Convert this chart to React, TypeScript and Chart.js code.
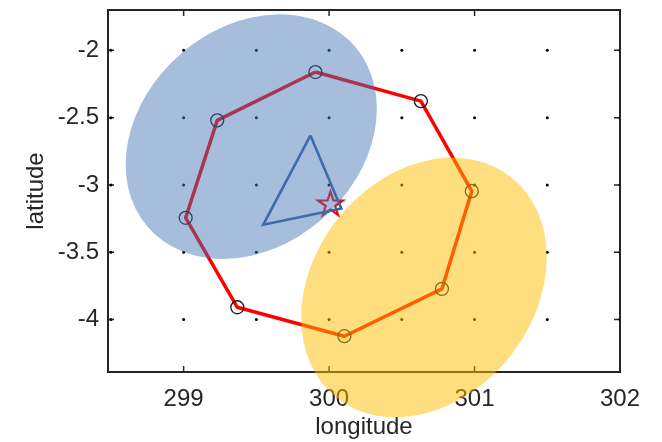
import React, { useEffect, useRef } from "react";
import { Chart, registerables } from "chart.js";

Chart.register(...registerables);

// ---- data ----
const xTickValues = [299, 300, 301, 302];
const yTickValues = [-4, -3.5, -3, -2.5, -2];
const xLimits = [298.48, 302];
const yLimits = [-4.39, -1.7];

const gridDotLon = [298.5, 299, 299.5, 300, 300.5, 301, 301.5, 302];
const gridDotLat = [-2, -2.5, -3, -3.5, -4];

const routeLon = [299.906, 300.631, 300.981, 300.776, 300.105, 299.369, 299.014, 299.231];
const routeLat = [-2.161, -2.377, -3.046, -3.772, -4.124, -3.909, -3.244, -2.52];

const triangleLon = [299.872, 299.547, 300.084];
const triangleLat = [-2.632, -3.296, -3.175];

const starLon = [300.009];
const starLat = [-3.145];

// ellipse: centre [lon, lat], covariance-like shape [sxx, sxy, syy] in data units
const blueEllipseCenter = [299.465, -2.641];
const blueEllipseShape = [0.7455, 0.1791, 0.8255];
const yellowEllipseCenter = [300.652, -3.762];
const yellowEllipseShape = [0.7127, 0.1888, 0.93];

const FONT = '"Liberation Sans", Arial, Helvetica, sans-serif';
const TEXT = "#262626";

function makePentagram(R: number, color: string, lw: number): HTMLCanvasElement {
  const size = Math.ceil(2 * R + lw * 2 + 4);
  const c = document.createElement("canvas");
  c.width = size;
  c.height = size;
  const g = c.getContext("2d")!;
  g.translate(size / 2, size / 2);
  const r = R * 0.382;
  g.beginPath();
  for (let k = 0; k < 10; k++) {
    const rad = k % 2 === 0 ? R : r;
    const a = -Math.PI / 2 + (k * Math.PI) / 5;
    const px = rad * Math.cos(a);
    const py = rad * Math.sin(a);
    if (k === 0) g.moveTo(px, py);
    else g.lineTo(px, py);
  }
  g.closePath();
  g.strokeStyle = color;
  g.lineWidth = lw;
  g.lineJoin = "miter";
  g.stroke();
  return c;
}

function drawEllipse(chart: any, center: number[], shape: number[], color: string) {
  const ctx = chart.ctx as CanvasRenderingContext2D;
  const xs = chart.scales.x;
  const ys = chart.scales.y;
  const cx = xs.getPixelForValue(center[0]);
  const cy = ys.getPixelForValue(center[1]);
  const sx = xs.getPixelForValue(center[0] + 1) - cx;
  const sy = ys.getPixelForValue(center[1] + 1) - cy;
  const l11 = Math.sqrt(shape[0]);
  const l21 = shape[1] / l11;
  const l22 = Math.sqrt(shape[2] - l21 * l21);
  ctx.save();
  ctx.beginPath();
  ctx.save();
  ctx.transform(sx * l11, sy * l21, 0, sy * l22, cx, cy);
  ctx.arc(0, 0, 1, 0, Math.PI * 2);
  ctx.restore();
  ctx.fillStyle = color;
  ctx.fill();
  ctx.restore();
}

const boxPlugin = {
  id: "boxPlugin",
  beforeDatasetsDraw(chart: any) {
    const ctx = chart.ctx as CanvasRenderingContext2D;
    const { left, right, top, bottom } = chart.chartArea;
    const xs = chart.scales.x;
    const ys = chart.scales.y;
    ctx.save();
    ctx.strokeStyle = TEXT;
    ctx.lineWidth = 2;
    ctx.strokeRect(left, top, right - left, bottom - top);
    ctx.lineWidth = 1.5;
    const tl = 6;
    ctx.beginPath();
    for (const v of xTickValues) {
      const px = xs.getPixelForValue(v);
      ctx.moveTo(px, bottom);
      ctx.lineTo(px, bottom - tl);
      ctx.moveTo(px, top);
      ctx.lineTo(px, top + tl);
    }
    for (const v of yTickValues) {
      const py = ys.getPixelForValue(v);
      ctx.moveTo(left, py);
      ctx.lineTo(left + tl, py);
      ctx.moveTo(right, py);
      ctx.lineTo(right - tl, py);
    }
    ctx.stroke();
    ctx.restore();
  },
};

const ellipsePlugin = {
  id: "ellipsePlugin",
  afterDraw(chart: any) {
    drawEllipse(chart, blueEllipseCenter, blueEllipseShape, "rgba(68,114,180,0.47)");
    drawEllipse(chart, yellowEllipseCenter, yellowEllipseShape, "rgba(255,190,0,0.5)");
  },
};

export default function App() {
  const ref = useRef<HTMLCanvasElement>(null);

  useEffect(() => {
    const canvas = ref.current!;
    const star = makePentagram(13, "#ff0000", 2.2);

    const dots: { x: number; y: number }[] = [];
    for (const lat of gridDotLat) for (const lon of gridDotLon) dots.push({ x: lon, y: lat });

    const route = routeLon.map((x, i) => ({ x, y: routeLat[i] }));
    const routeClosed = [...route, route[0]];
    const tri = triangleLon.map((x, i) => ({ x, y: triangleLat[i] }));
    const triClosed = [...tri, tri[0]];
    const stars = starLon.map((x, i) => ({ x, y: starLat[i] }));

    const chart = new Chart(canvas, {
      type: "scatter",
      data: {
        datasets: [
          {
            data: dots,
            pointRadius: 1.5,
            pointBackgroundColor: "#000000",
            pointBorderWidth: 0,
            showLine: false,
            order: 5,
          } as any,
          {
            data: routeClosed,
            showLine: true,
            borderColor: "#ff0000",
            borderWidth: 3.5,
            borderJoinStyle: "round",
            pointRadius: 0,
            fill: false,
            tension: 0,
            order: 4,
          },
          {
            data: route,
            showLine: false,
            pointRadius: 6.5,
            pointBorderColor: "#1a1a1a",
            pointBackgroundColor: "rgba(0,0,0,0)",
            pointBorderWidth: 1.3,
            order: 3,
          },
          {
            data: stars,
            showLine: false,
            pointStyle: star,
            pointRadius: 13,
            order: 2,
          },
          {
            data: triClosed,
            showLine: true,
            borderColor: "#3c64a0",
            borderWidth: 2.6,
            borderJoinStyle: "miter",
            pointRadius: 0,
            fill: false,
            tension: 0,
            order: 1,
          },
        ],
      },
      options: {
        responsive: false,
        animation: false,
        events: [],
        devicePixelRatio: 1,
        layout: { padding: { left: 0, right: 42, top: 6, bottom: 0 } },
        plugins: {
          legend: { display: false },
          tooltip: { enabled: false },
          title: { display: false },
        },
        scales: {
          x: {
            type: "linear",
            min: xLimits[0],
            max: xLimits[1],
            grid: { display: false, drawTicks: false },
            border: { display: false },
            afterBuildTicks: (s: any) => {
              s.ticks = xTickValues.map((v) => ({ value: v }));
            },
            afterFit: (s: any) => {
              s.height = 70;
              s.paddingLeft = 0;
              s.paddingRight = 0;
            },
            ticks: {
              padding: 13,
              color: TEXT,
              font: { family: FONT, size: 24 },
              callback: (v: any) => String(v),
              maxRotation: 0,
              autoSkip: false,
            },
            title: {
              display: true,
              text: "longitude",
              color: TEXT,
              font: { family: FONT, size: 24 },
              padding: 0,
            },
          },
          y: {
            type: "linear",
            min: yLimits[0],
            max: yLimits[1],
            grid: { display: false, drawTicks: false },
            border: { display: false },
            afterBuildTicks: (s: any) => {
              s.ticks = yTickValues.map((v) => ({ value: v }));
            },
            afterFit: (s: any) => {
              s.width = 108;
              s.paddingTop = 0;
              s.paddingBottom = 0;
            },
            ticks: {
              padding: 9,
              color: TEXT,
              font: { family: FONT, size: 24 },
              callback: (v: any) => String(v),
              autoSkip: false,
            },
            title: {
              display: true,
              text: "latitude",
              color: TEXT,
              font: { family: FONT, size: 24 },
              padding: { top: 22, bottom: 0 },
            },
          },
        },
      },
      plugins: [boxPlugin, ellipsePlugin],
    });

    return () => chart.destroy();
  }, []);

  return (
    <div style={{ position: "absolute", left: 0, top: 0, width: 662, height: 442, overflow: "hidden", background: "#ffffff" }}>
      <canvas ref={ref} width={662} height={446} style={{ display: "block", position: "absolute", left: 0, top: -4 }} />
    </div>
  );
}
